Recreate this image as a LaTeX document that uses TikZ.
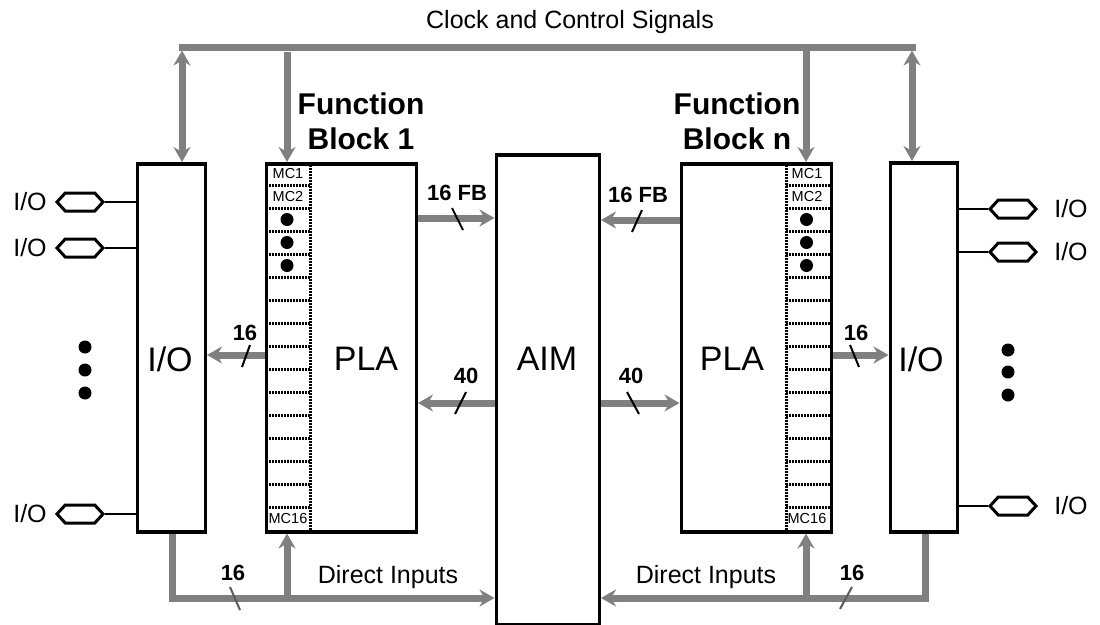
\documentclass[tikz,border=0pt]{standalone}
\usepackage{fontspec}
\setmainfont{Liberation Sans}
\usetikzlibrary{arrows.meta,calc,shapes.symbols}
\definecolor{busgray}{RGB}{128,128,128}
\begin{document}
\begin{tikzpicture}[x=1pt,y=-1pt,
  box/.style={draw, line width=3.5pt, inner sep=0pt, anchor=north west, fill=white},
  bus/.style={color=busgray, line width=7pt},
  tip/.style={-{Stealth[length=15pt,width=17pt,inset=5pt]}},
  dtip/.style={{Stealth[length=15pt,width=17pt,inset=5pt]}-{Stealth[length=15pt,width=17pt,inset=5pt]}},
  mcdot/.style={line width=3pt, dash pattern=on 1.6pt off 1.4pt},
  hexa/.style={signal, signal to=east and west, signal pointer angle=95, draw, line width=3pt, fill=white, minimum width=46pt, minimum height=18pt, inner sep=0pt},
  slash/.style={line width=2pt},
  lbl/.style={font=\fontsize{25}{30}\selectfont, inner sep=0pt},
  big/.style={font=\fontsize{34}{40}\selectfont, inner sep=0pt},
  num/.style={font=\fontsize{22}{26}\selectfont\bfseries, inner sep=0pt},
  mc/.style={font=\fontsize{14.5}{16}\selectfont, inner sep=0pt},
  fb/.style={font=\fontsize{30}{35}\selectfont\bfseries, align=center, inner sep=0pt},
  bdot/.style={fill=black}
]
\useasboundingbox (0,0) rectangle (1100,624);

% ---- boxes ----
\node[box, minimum width=68pt, minimum height=368pt] (io1) at (135.5,162) {};
\node[box, minimum width=150pt, minimum height=368pt] (pla1) at (264.5,162) {};
\node[box, minimum width=103pt, minimum height=470pt] (aim) at (494.5,153) {};
\node[box, minimum width=150pt, minimum height=368pt] (pla2) at (679.5,162) {};
\node[box, minimum width=67pt, minimum height=369pt] (io2) at (888.5,161) {};

% ---- box texts ----
\node[big] (tio1) at (170,359) {I/O};
\node[big] (tpla1) at (366,359) {PLA};
\node[big] (taim) at (547,359) {AIM};
\node[big] (tpla2) at (732,359) {PLA};
\node[big] (tio2) at (921,359) {I/O};

% ---- macrocell columns ----
\draw[mcdot] ($(pla1.north west)+(46,0)$) -- ($(pla1.south west)+(46,0)$);
\draw[mcdot] ($(pla2.north east)+(-47,0)$) -- ($(pla2.south east)+(-47,0)$);
\foreach \k in {1,...,15}{
  \draw[mcdot] ($(pla1.north west)+(1.5,23*\k)$) -- ($(pla1.north west)+(46,23*\k)$);
  \draw[mcdot] ($(pla2.north east)+(-47,23*\k)$) -- ($(pla2.north east)+(-1.5,23*\k)$);
}
\node[mc] (mc1a) at (288,174) {MC1};
\node[mc] (mc2a) at (288,197) {MC2};
\node[mc] (mc16a) at (288,519) {MC16};
\node[mc] (mc1b) at (807,174) {MC1};
\node[mc] (mc2b) at (807,197) {MC2};
\node[mc] (mc16b) at (807,519) {MC16};
\foreach \yy in {219.5,242.5,265.5}{
  \fill[bdot] (287,\yy) circle (6.5pt);
  \fill[bdot] (806.5,\yy) circle (6.5pt);
}

% ---- function block titles ----
\node[fb] (fb1) at (361,121) {Function\\Block 1};
\node[fb] (fbn) at (737,121) {Function\\Block n};

% ---- clock bus ----
\node[lbl] (clk) at (570,22) {Clock and Control Signals};
\coordinate (cL) at (182,47);
\coordinate (cP1) at (287,47);
\coordinate (cP2) at (806,47);
\coordinate (cR) at (912,47);
\draw[bus] ($(cL)+(-3.5,0)$) -- ($(cR)+(3.5,0)$);
\draw[bus, dtip] ($(cL)+(0,3.5)$) -- (cL |- io1.north);
\draw[bus, dtip] ($(cR)+(0,3.5)$) -- (cR |- io2.north);
\draw[bus, tip] ($(cP1)+(0,5)$) -- (cP1 |- pla1.north);
\draw[bus, tip] (cP2) -- (cP2 |- pla2.north);

% ---- FB feedback ----
\coordinate (yfbL) at (0,218);
\coordinate (yfbR) at (0,220);
\draw[bus, tip] (pla1.east |- yfbL) -- (aim.west |- yfbL);
\draw[bus, tip] (pla2.west |- yfbR) -- (aim.east |- yfbR);
\node[num] (l16fbL) at (457,193) {16 FB};
\node[num] (l16fbR) at (638,195) {16 FB};
\draw[slash] (452,208) -- (463,230);
\draw[slash] (642,210) -- (632,232);

% ---- PLA to I/O (16) ----
\coordinate (y16) at (0,355);
\draw[bus, tip] (pla1.west |- y16) -- (io1.east |- y16);
\draw[bus, tip] (pla2.east |- y16) -- (io2.west |- y16);
\node[num] (l16L) at (245,333) {16};
\node[num] (l16R) at (856,333) {16};
\draw[slash] (250,345) -- (242,367);
\draw[slash] (850,345) -- (859,367);

% ---- AIM to PLA (40) ----
\coordinate (y40) at (0,403);
\draw[bus, tip] (aim.west |- y40) -- (pla1.east |- y40);
\draw[bus, tip] (aim.east |- y40) -- (pla2.west |- y40);
\node[num] (l40L) at (466,376) {40};
\node[num] (l40R) at (631,376) {40};
\draw[slash] (466,392) -- (455,414);
\draw[slash] (627,392) -- (639,414);

% ---- direct inputs ----
\coordinate (dL) at (172,598);
\coordinate (uL) at (287,598);
\coordinate (uR) at (806,598);
\coordinate (dR) at (925,598);
\draw[bus, tip, line join=miter] (io1.south -| dL) -- (dL) -- (aim.west |- dL);
\draw[bus, tip, line join=miter] (io2.south -| dR) -- (dR) -- (aim.east |- dR);
\draw[bus, tip] (uL) -- (uL |- pla1.south);
\draw[bus, tip] (uR) -- (uR |- pla2.south);
\node[num] (l16dL) at (233,573) {16};
\node[num] (l16dR) at (852,573) {16};
\draw[slash, color=busgray!70!black] (230,587) -- (240,610);
\draw[slash, color=busgray!70!black] (852,587) -- (840,609);
\node[lbl] (diL) at (388,577) {Direct Inputs};
\node[lbl] (diR) at (706,577) {Direct Inputs};

% ---- I/O pins ----
\node[hexa] (hL1) at (80,202) {};
\node[hexa] (hL2) at (80,248) {};
\node[hexa] (hL3) at (80,514) {};
\node[hexa] (hR1) at (1013,209) {};
\node[hexa] (hR2) at (1013,252) {};
\node[hexa] (hR3) at (1013,506) {};
\foreach \h in {hL1,hL2,hL3}{\draw[line width=2pt] (\h.east) -- (io1.west |- \h.east);}
\foreach \h in {hR1,hR2,hR3}{\draw[line width=2pt] (\h.west) -- (io2.east |- \h.west);}
\node[lbl] (pL1) at (30,202) {I/O};
\node[lbl] (pL2) at (30,248) {I/O};
\node[lbl] (pL3) at (30,514) {I/O};
\node[lbl] (pR1) at (1071,209) {I/O};
\node[lbl] (pR2) at (1071,252) {I/O};
\node[lbl] (pR3) at (1071,506) {I/O};

% ---- ellipsis dots ----
\foreach \yy in {347,370,393}{\fill[bdot] (85,\yy) circle (6.5pt);}
\foreach \yy in {350,372,395}{\fill[bdot] (1008,\yy) circle (6.5pt);}
\end{tikzpicture}
\end{document}
